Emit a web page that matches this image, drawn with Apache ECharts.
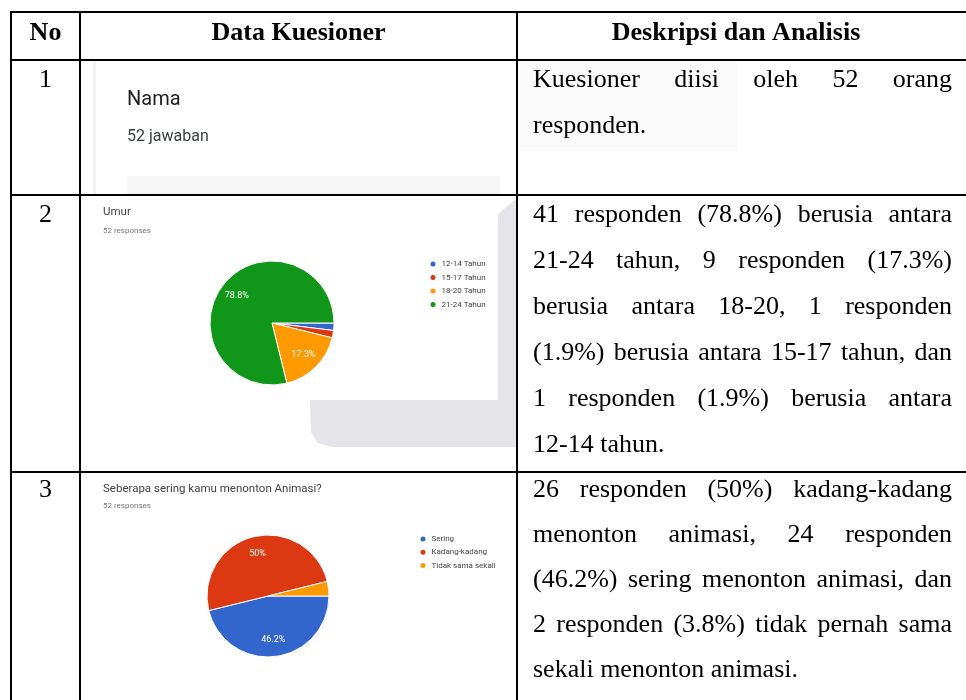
<!DOCTYPE html>
<html><head><meta charset="utf-8">
<script src="https://cdn.jsdelivr.net/npm/echarts@6/dist/echarts.min.js"></script>
<style>html,body{margin:0;padding:0;background:#fff}#c{width:966px;height:700px}</style>
</head><body><div id="c"></div>
<script>
// ---------- data ----------
const headers = ['No', 'Data Kuesioner', 'Deskripsi dan Analisis'];
const rowNumbers = ['1', '2', '3'];
const q1Title = 'Nama';
const q1Count = '52 jawaban';
const ageTitle = 'Umur';
const ageSub = '52 responses';
const ageCategories = ['12-14 Tahun', '15-17 Tahun', '18-20 Tahun', '21-24 Tahun'];
const ageValues = [1, 1, 9, 41];
const freqTitle = 'Seberapa sering kamu menonton Animasi?';
const freqSub = '52 responses';
const freqCategories = ['Sering', 'Kadang-kadang', 'Tidak sama sekali'];
const freqValues = [24, 26, 2];
const desc1 = ['Kuesioner diisi oleh 52 orang', 'responden.'];
const desc2 = ['41 responden (78.8%) berusia antara', '21-24 tahun, 9 responden (17.3%)', 'berusia antara 18-20, 1 responden', '(1.9%) berusia antara 15-17 tahun, dan', '1 responden (1.9%) berusia antara', '12-14 tahun.'];
const desc3 = ['26 responden (50%) kadang-kadang', 'menonton animasi, 24 responden', '(46.2%) sering menonton animasi, dan', '2 responden (3.8%) tidak pernah sama', 'sekali menonton animasi.'];

// ---------- styling ----------
const ageColors = ['#3366cc', '#dc3912', '#ff9900', '#109618'];
const freqColors = ['#3366cc', '#dc3912', '#ff9900'];
const SERIF = "'Liberation Serif','Times New Roman',serif";
const SANS = "Roboto, Arial, sans-serif";
const BODY = 26;
const MID = 0.3375 * BODY - 2; // baseline -> middle offset (tuned)

const ctx = document.createElement('canvas').getContext('2d');
function measure(t, font) { ctx.font = font; return ctx.measureText(t).width; }

function paragraph(lines, x0, x1, baseline0, lh) {
  const els = [];
  const font = BODY + 'px ' + SERIF;
  lines.forEach((line, i) => {
    const y = baseline0 + i * lh - MID;
    if (i === lines.length - 1) {
      els.push({ type: 'text', x: x0, y: y, z: 50, style: { text: line, font: font, fill: '#000', verticalAlign: 'middle' } });
      return;
    }
    const words = line.split(' ');
    const ws = words.map(w => measure(w, font));
    const total = ws.reduce((a, b) => a + b, 0);
    const gap = (x1 - x0 - total) / (words.length - 1);
    let x = x0;
    words.forEach((w, j) => {
      els.push({ type: 'text', x: x, y: y, z: 50, style: { text: w, font: font, fill: '#000', verticalAlign: 'middle' } });
      x += ws[j] + gap;
    });
  });
  return els;
}

function line(x1, y1, x2, y2) {
  return { type: 'line', z: 100, shape: { x1, y1, x2, y2 }, style: { stroke: '#000', lineWidth: 2 } };
}

const graphics = [];
// background shading from the screenshots
graphics.push({ type: 'rect', z: -10, shape: { x: 93, y: 61, width: 3, height: 133 }, style: { fill: '#f3f3f3' } });
graphics.push({ type: 'rect', z: -10, shape: { x: 127, y: 176, width: 373, height: 19 }, style: { fill: '#f6f6f6' } });
graphics.push({ type: 'rect', z: -10, shape: { x: 519, y: 61, width: 218, height: 90 }, style: { fill: '#fbfbfb' } });
graphics.push({ type: 'polygon', z: -10, shape: { points: [[498, 214], [517, 198], [517, 447], [332, 447], [318, 443], [311, 432], [310, 400], [498, 400]] }, style: { fill: '#e5e4e8' } });

// table lines
graphics.push(line(10, 12, 966, 12));
graphics.push(line(10, 60, 966, 60));
graphics.push(line(10, 195, 966, 195));
graphics.push(line(10, 472, 966, 472));
graphics.push(line(11, 11, 11, 700));
graphics.push(line(80, 11, 80, 700));
graphics.push(line(517, 11, 517, 700));

// headers
const headerX = [45.5, 298.5, 736];
headers.forEach((h, i) => {
  graphics.push({ type: 'text', x: headerX[i], y: 40.5 - MID, z: 50, style: { text: h, font: 'bold ' + BODY + 'px ' + SERIF, fill: '#000', align: 'center', verticalAlign: 'middle' } });
});
// row numbers
const rowBase = [87, 222, 497];
rowNumbers.forEach((n, i) => {
  graphics.push({ type: 'text', x: 45.5, y: rowBase[i] - MID, z: 50, style: { text: n, font: BODY + 'px ' + SERIF, fill: '#000', align: 'center', verticalAlign: 'middle' } });
});
// descriptions
graphics.push(...paragraph(desc1, 533, 952, 87, 46));
graphics.push(...paragraph(desc2, 533, 952, 222, 46));
graphics.push(...paragraph(desc3, 533, 952, 497, 45));

// chart captions
function caption(x, y, text, size, color) {
  return { type: 'text', x: x, y: y, z: 50, style: { text: text, font: size + 'px ' + SANS, fill: color, verticalAlign: 'middle' } };
}
graphics.push(caption(127, 100, q1Title, 20, '#202124'));
graphics.push(caption(127, 136.5, q1Count, 16, '#3c4043'));
graphics.push(caption(103, 212.5, ageTitle, 11.5, '#444'));
graphics.push(caption(103, 231, ageSub, 8, '#777'));
graphics.push(caption(103, 489, freqTitle, 11.5, '#444'));
graphics.push(caption(103, 506, freqSub, 8, '#777'));

// ---------- pies ----------
const pieDefs = [
  { cats: ageCategories, vals: ageValues, colors: ageColors, center: [272, 323], r: 62 },
  { cats: freqCategories, vals: freqValues, colors: freqColors, center: [268, 596], r: 61 }
];
function pctText(v, vals) {
  const total = vals.reduce((a, b) => a + b, 0);
  const p = v / total * 100;
  if (p < 5) return '';
  return p.toFixed(1).replace(/\.0$/, '') + '%';
}
const series = pieDefs.map((d, si) => ({
  type: 'pie',
  center: d.center,
  radius: [0, d.r],
  startAngle: 0,
  clockwise: true,
  avoidLabelOverlap: false,
  animation: false,
  silent: true,
  data: d.cats.map((n, i) => ({ name: n, value: d.vals[i], itemStyle: { color: d.colors[i] } })),
  itemStyle: { borderColor: '#fff', borderWidth: 1 },
  label: {
    show: true, position: 'inside', color: '#fff', fontSize: 9, fontFamily: SANS,
    formatter: p => pctText(p.value, d.vals)
  },
  labelLine: { show: false },
  labelLayout: function (params) {
    const def = pieDefs[params.seriesIndex];
    const vals = def.vals;
    const total = vals.reduce((a, b) => a + b, 0);
    let cum = 0;
    for (let k = 0; k < params.dataIndex; k++) cum += vals[k];
    const f = (cum + vals[params.dataIndex] / 2) / total;
    const a = f * Math.PI * 2;
    const k = 0.72 * def.r;
    return { x: def.center[0] + k * Math.cos(a), y: def.center[1] + k * Math.sin(a), align: 'center', verticalAlign: 'middle' };
  }
}));

const legendBase = { orient: 'vertical', icon: 'circle', itemWidth: 7, itemHeight: 7, padding: 0, selectedMode: false,
  textStyle: { fontSize: 8, fontFamily: SANS, color: '#444', lineHeight: 10 } };
const legends = [
  Object.assign({}, legendBase, { data: ageCategories, left: 428.5, top: 259, itemGap: 3.5 }),
  Object.assign({}, legendBase, { data: freqCategories, left: 418.5, top: 534, itemGap: 3.3 })
];

const chart = echarts.init(document.getElementById('c'), null, { renderer: 'canvas', width: 966, height: 700 });
chart.setOption({
  animation: false,
  backgroundColor: '#ffffff',
  legend: legends,
  series: series,
  graphic: { elements: graphics }
});
</script>
</body></html>
